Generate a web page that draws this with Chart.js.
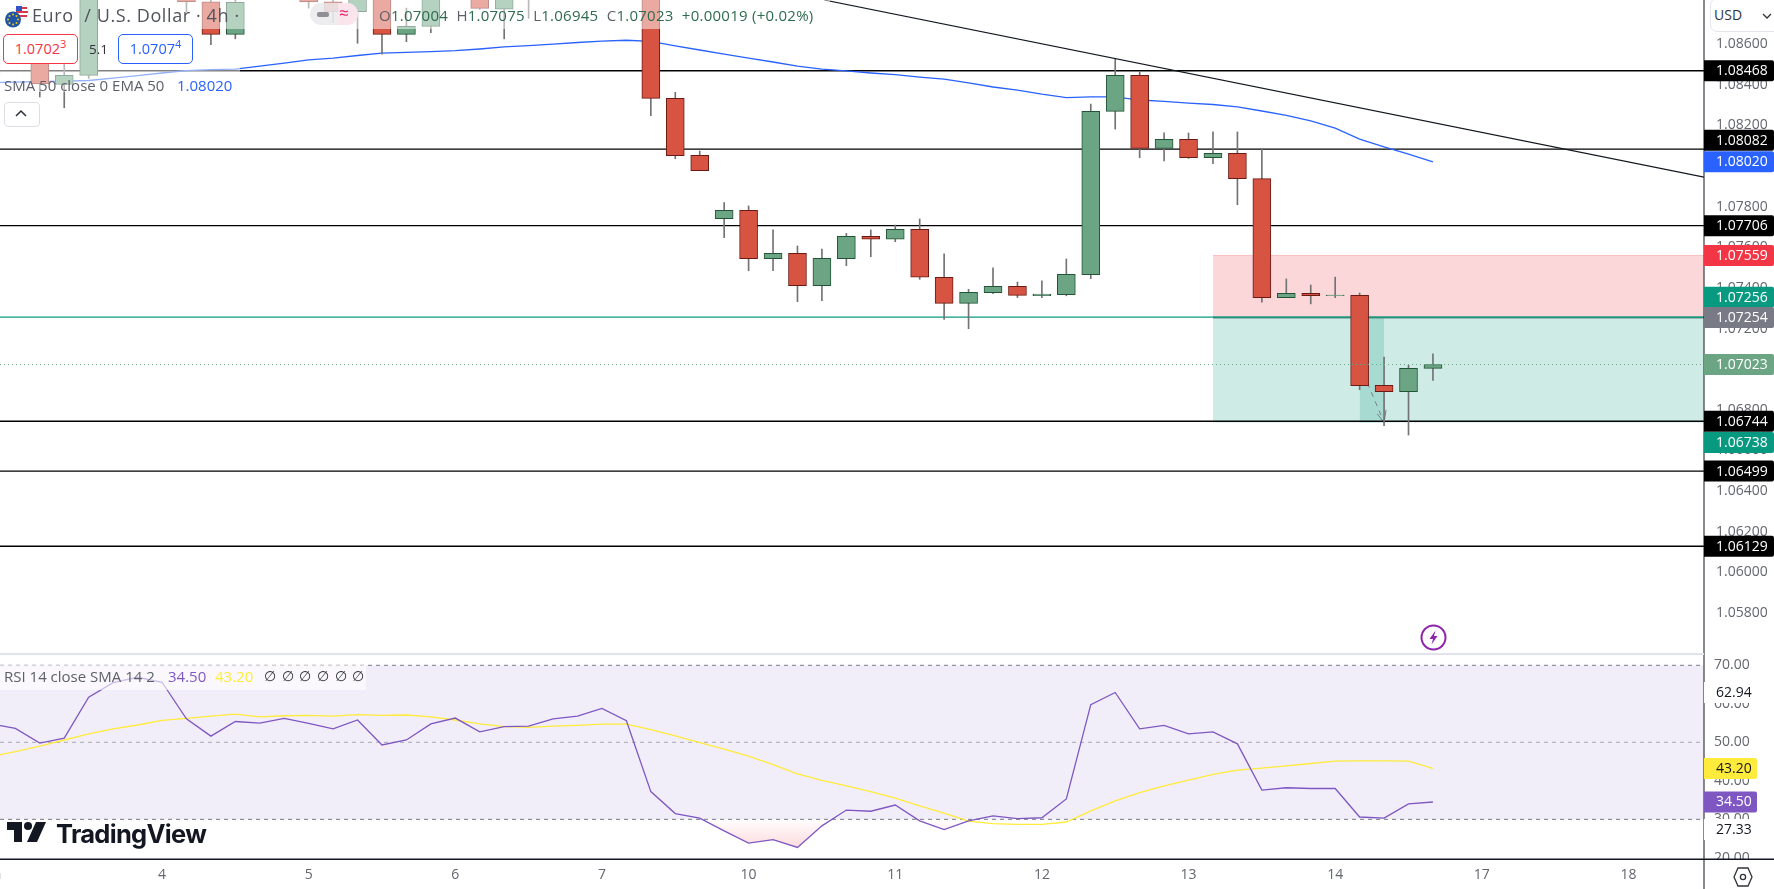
<!DOCTYPE html>
<html>
<head>
<meta charset="utf-8">
<title>Euro / U.S. Dollar 4h</title>
<script src="https://cdn.jsdelivr.net/npm/chart.js@4"></script>
<style>
  html, body { margin: 0; padding: 0; background: #fff; }
  #page { position: relative; width: 1774px; height: 889px; overflow: hidden; background: #fff; font-family: "Open Sans", sans-serif; }
  canvas { position: absolute; left: -40px; }
  #priceChart { top: 0; }
  #rsiChart { top: 654px; }
  .abs { position: absolute; white-space: nowrap; }
  .strip { position: absolute; background: rgba(255,255,255,0.5); }
  .tv-green { color: #2f6b4f; }
  .tv-grey { color: #5d6068; }
</style>
</head>
<body>
<div id="page">
  <canvas id="priceChart" width="1814" height="654"></canvas>
  <canvas id="rsiChart" width="1814" height="235"></canvas>

  <!-- separator between panes -->
  <div class="abs" style="left:0;top:653px;width:1704px;height:2px;background:#e0e3eb"></div>

  <!-- legend backgrounds, they fade the candles under them -->
  <div class="strip" style="left:0;top:0;width:830px;height:29px"></div>
  <div class="strip" style="left:0;top:29px;width:198px;height:35px"></div>
  <div class="strip" style="left:0;top:64px;width:240px;height:28px"></div>
  <div class="strip" style="left:0;top:665px;width:366px;height:25px;background:rgba(255,255,255,0.6)"></div>

  <!-- symbol flags -->
  <svg class="abs" style="left:3px;top:2px" width="26" height="27" viewBox="0 0 26 27">
    <circle cx="19" cy="10" r="7" fill="#fff" stroke="#e8e8ee"/>
    <path d="M14 5h10v2H14zM13 9h12v2H13zM13 13h11v2H13z" fill="#d8394a"/>
    <path d="M13 4h6v5h-6z" fill="#2f57c4"/>
    <circle cx="10" cy="17.5" r="8" fill="#1f57a4"/>
    <g fill="#f5c518"><circle cx="10" cy="12.5" r="1"/><circle cx="10" cy="22.5" r="1"/><circle cx="5" cy="17.5" r="1"/><circle cx="15" cy="17.5" r="1"/><circle cx="6.5" cy="14" r="1"/><circle cx="13.5" cy="14" r="1"/><circle cx="6.5" cy="21" r="1"/><circle cx="13.5" cy="21" r="1"/></g>
  </svg>

  <!-- title row -->
  <div class="abs" style="left:32px;top:3px;font-size:18px;line-height:24px;letter-spacing:0.6px;color:#50535b">Euro&nbsp;&nbsp;/&nbsp;U.S. Dollar · 4h ·</div>
  <div class="abs" style="left:310px;top:3px;width:48px;height:22px;border-radius:11px;background:rgba(232,232,236,0.8)"></div>
  <div class="abs" style="left:338px;top:3px;width:20px;height:22px;border-radius:0 11px 11px 0;background:rgba(252,228,236,0.9)"></div>
  <div class="abs" style="left:317px;top:12px;width:12px;height:5px;border-radius:2px;background:#8f8f94"></div>
  <div class="abs" style="left:339px;top:2px;font-size:17px;line-height:22px;color:#ec1c64">≈</div>
  <div class="abs tv-green" style="left:379px;top:5px;font-size:15px;line-height:20px;letter-spacing:0.25px">
    <span class="tv-grey">O</span>1.07004&nbsp;&nbsp;<span class="tv-grey">H</span>1.07075&nbsp;&nbsp;<span class="tv-grey">L</span>1.06945&nbsp;&nbsp;<span class="tv-grey">C</span>1.07023&nbsp;&nbsp;+0.00019&nbsp;(+0.02%)</div>

  <!-- buy and sell boxes -->
  <div class="abs" style="left:3px;top:34px;width:73px;height:28px;border:1px solid #f23645;border-radius:5px;background:#fff;color:#f23645;font-size:14.5px;line-height:28px;text-align:center">1.0702<sup style="font-size:11px;line-height:0">3</sup></div>
  <div class="abs" style="left:89px;top:40px;font-size:13.5px;line-height:18px;color:#30333b">5.1</div>
  <div class="abs" style="left:118px;top:34px;width:73px;height:28px;border:1px solid #2962ff;border-radius:5px;background:#fff;color:#2962ff;font-size:14.5px;line-height:28px;text-align:center">1.0707<sup style="font-size:11px;line-height:0">4</sup></div>

  <!-- indicator row -->
  <div class="abs tv-grey" style="left:4px;top:75px;font-size:15px;line-height:20px">SMA 50 close 0 EMA 50</div>
  <div class="abs" style="left:177px;top:75px;font-size:15px;line-height:20px;color:#2962ff">1.08020</div>
  <div class="abs" style="left:4px;top:102px;width:34px;height:23px;border:1px solid #dcdee4;border-radius:4px;background:#fff"></div>
  <svg class="abs" style="left:14px;top:108px" width="14" height="10"><path d="M2 8 L7 3 L12 8" fill="none" stroke="#2a2e39" stroke-width="1.5"/></svg>

  <!-- rsi legend -->
  <div class="abs tv-grey" style="left:4px;top:666px;font-size:15px;line-height:20px">RSI 14 close SMA 14 2</div>
  <div class="abs" style="left:168px;top:666px;font-size:15px;line-height:20px;color:#7e57c2">34.50</div>
  <div class="abs" style="left:215px;top:666px;font-size:15px;line-height:20px;color:#ffeb3b">43.20</div>
  <div class="abs" style="left:264px;top:666px;font-size:14px;line-height:20px;color:#30333b;word-spacing:2px">∅ ∅ ∅ ∅ ∅ ∅</div>

  <!-- logo -->
  <svg class="abs" style="left:7px;top:822px" width="39" height="20" viewBox="0 0 39 20">
    <path d="M0 0h15v20H7V8H0z" fill="#131722"/>
    <circle cx="21" cy="4" r="4" fill="#131722"/>
    <path d="M29 0h10l-9 20H20z" fill="#131722"/>
  </svg>
  <div class="abs" style="left:56px;top:818px;font-family:Inter,sans-serif;font-weight:700;font-size:25.5px;line-height:32px;letter-spacing:-0.7px;color:#131722">TradingView</div>

  <!-- lightning badge -->
  <svg class="abs" style="left:1420px;top:624px" width="27" height="27" viewBox="0 0 27 27">
    <circle cx="13.5" cy="13.5" r="12" fill="#fff" stroke="#8e24aa" stroke-width="2"/>
    <path d="M15.5 6.5 L9.5 15 H13 L11.5 20.5 L17.5 12 H14z" fill="#8e24aa"/>
  </svg>

  <!-- currency button and settings icon -->
  <div class="abs" style="left:1710px;top:-2px;width:70px;height:32px;border:1px solid #e4e6ec;border-radius:7px;background:#fff"></div>
  <div class="abs" style="left:1714px;top:5px;font-size:14px;line-height:20px;color:#30333b">USD</div>
  <svg class="abs" style="left:1762px;top:12px" width="10" height="8"><path d="M1 2 L5 6 L9 2" fill="none" stroke="#30333b" stroke-width="1.3"/></svg>
  <svg class="abs" style="left:1733px;top:865px" width="20" height="24" viewBox="0 0 20 24">
    <path d="M5 3 H15 L19 12 L15 21 H5 L1 12z" fill="none" stroke="#30333b" stroke-width="1.3"/>
    <circle cx="10" cy="12" r="2.6" fill="none" stroke="#30333b" stroke-width="1.3"/>
  </svg>
</div>

<script>
// candles, 4h bars, first one sits just off the left edge
var candleOpen = [1.08447,1.08570,1.08560,1.08401,1.08445,1.08930,1.08990,1.09060,1.09020,1.08807,
  1.08647,1.08830,1.08900,1.08980,1.08807,1.08758,1.08900,1.08647,1.08686,1.08860,
  1.08900,1.08771,1.08920,1.08860,1.08900,1.08870,1.08950,1.08930,1.08332,1.08052,
  1.07740,1.07781,1.07543,1.07570,1.07411,1.07543,1.07654,1.07639,1.07688,1.07452,
  1.07324,1.07376,1.07408,1.07361,1.07366,1.07465,1.08268,1.08445,1.08086,1.08131,
  1.08040,1.08062,1.07937,1.07352,1.07373,1.07361,1.07363,1.06921,1.06889,1.07004];
var candleHigh = [1.08590,1.08590,1.08590,1.08500,1.08960,1.09060,1.09100,1.09110,1.09050,1.08880,
  1.08860,1.08950,1.09010,1.09000,1.08850,1.08930,1.08940,1.08776,1.08890,1.08900,
  1.08930,1.08950,1.08960,1.08930,1.08950,1.08990,1.08980,1.08960,1.08362,1.08073,
  1.07819,1.07803,1.07685,1.07606,1.07591,1.07668,1.07685,1.07709,1.07739,1.07567,
  1.07393,1.07498,1.07429,1.07434,1.07542,1.08304,1.08526,1.08463,1.08162,1.08162,
  1.08167,1.08167,1.08084,1.07444,1.07414,1.07453,1.07375,1.07060,1.07019,1.07075];
var candleLow = [1.08432,1.08540,1.08339,1.08286,1.08430,1.08900,1.08950,1.08960,1.08757,1.08596,
  1.08625,1.08820,1.08870,1.08776,1.08704,1.08603,1.08549,1.08611,1.08655,1.08820,
  1.08770,1.08625,1.08726,1.08825,1.08830,1.08840,1.08880,1.08247,1.08035,1.07976,
  1.07647,1.07484,1.07484,1.07332,1.07337,1.07509,1.07553,1.07627,1.07442,1.07245,
  1.07199,1.07371,1.07352,1.07352,1.07361,1.07445,1.08181,1.08040,1.08025,1.08037,
  1.08011,1.07809,1.07330,1.07352,1.07321,1.07352,1.06899,1.06722,1.06676,1.06945];
var candleClose = [1.08570,1.08560,1.08403,1.08445,1.08930,1.08990,1.09060,1.09020,1.08807,1.08647,
  1.08804,1.08900,1.08980,1.08807,1.08758,1.08900,1.08647,1.08686,1.08860,1.08830,
  1.08775,1.08920,1.08860,1.08900,1.08870,1.08950,1.08930,1.08332,1.08050,1.07976,
  1.07781,1.07543,1.07570,1.07411,1.07545,1.07654,1.07639,1.07688,1.07452,1.07324,
  1.07378,1.07408,1.07363,1.07370,1.07467,1.08268,1.08445,1.08086,1.08131,1.08040,
  1.08062,1.07937,1.07352,1.07373,1.07361,1.07365,1.06919,1.06889,1.07004,1.07023];
var emaValues = [1.08410,1.08412,1.08415,1.08417,1.08420,1.08432,1.08444,1.08457,1.08469,1.08474,
  1.08476,1.08491,1.08506,1.08521,1.08530,1.08543,1.08555,1.08558,1.08562,1.08567,
  1.08575,1.08585,1.08592,1.08599,1.08607,1.08614,1.08618,1.08612,1.08590,1.08570,
  1.08550,1.08530,1.08511,1.08491,1.08476,1.08467,1.08457,1.08449,1.08437,1.08427,
  1.08408,1.08388,1.08373,1.08353,1.08336,1.08339,1.08339,1.08324,1.08317,1.08309,
  1.08302,1.08290,1.08270,1.08248,1.08221,1.08186,1.08132,1.08093,1.08058,1.08020];
var rsiValues = [54.8,53.6,49.8,51.1,61.7,65.5,66.9,65.6,56.1,51.6,
  55.4,55.0,56.2,54.9,53.5,55.8,49.3,50.6,54.8,56.3,
  52.7,54.1,54.2,56.1,56.8,58.8,55.6,37.2,31.5,30.3,
  27.0,23.8,24.7,22.7,28.3,32.4,32.1,33.7,29.6,27.33,
  29.6,30.9,30.2,30.4,35.3,59.8,62.94,53.5,54.4,52.2,
  52.7,49.6,37.6,38.2,38.0,38.0,30.6,30.3,34.0,34.5];
var rsiSmaValues = [46.3,47.6,49.0,50.6,52.2,53.5,54.5,55.7,56.2,56.8,
  57.3,56.6,56.9,57.0,56.8,57.2,57.0,57.1,56.6,55.8,
  54.8,54.1,53.9,54.2,54.4,54.7,54.7,53.3,51.7,49.9,
  48.2,46.4,44.2,41.8,40.1,38.7,37.2,35.5,33.5,31.6,
  29.5,28.9,28.7,28.7,29.3,32.2,34.8,36.9,38.7,40.2,
  41.7,42.8,43.3,43.9,44.5,45.1,45.2,45.2,45.1,43.2];

// time axis
var dayLabels = ["Jun","4","5","6","7","10","11","12","13","14","17","18"];
var dayBars = [0,7,13,19,25,31,37,43,49,55,61,67];

// drawings on the price pane
var levelPrices = [1.08468,1.08082,1.07706,1.06744,1.06499,1.06129];
var greenLevel = 1.07256;
var lastPrice = 1.07023;
var entryPrice = 1.07254;
var stopPrice = 1.07559;
var targetPrice = 1.06738;
var positionStartBar = 50;
var filledBars = [56,57];
var trendBars = [34.09,70.09];
var trendPrices = [1.08816,1.07945];
var arrowBars = [56,57];
var arrowPrices = [1.07023,1.06738];
var arrowHeadBars = [56.72,57,57.08];
var arrowHeadPrices = [1.06780,1.06738,1.06800];

// labels on the right axis
var priceTagValues = [1.08468,1.08082,1.08020,1.07706,1.07559,1.07256,1.07254,1.07023,1.06744,1.06738,1.06499,1.06129];
var rsiLevels = [70,50,30];
var rsiTagValues = [62.94,43.20,34.50,27.33];

// scale limits, the canvas starts 40px left of the page so "Jun" gets cut by the edge
var xMin = -1.265, xMax = 70.09;
var upFill = "#6ba583", upBorder = "#225437", downFill = "#d75442", downBorder = "#6b1a13", wickColor = "#737375";
var tickGrey = "#63666e";
var tickFont = { family: "'Open Sans', sans-serif", size: 14 };
var axisX = 1744; // 1704 on the page
var tagFills = ["#000","#000","#2962ff","#000","#f23645","#089981","#787b86","#6ba583","#000","#089981","#000","#000"];
var tagShift = [0,-9,0,0,0,-20,0,0,0,20,0,0]; // tags pushed apart like on the original
var rsiTagFills = ["#fff","#ffeb3b","#7e57c2","#fff"];
var rsiTagText = ["#131722","#131722","#fff","#131722"];

function flatLine(from, to, value, color, width, dash, order) {
  return {
    type: "line",
    data: [{x: from, y: value}, {x: to, y: value}],
    borderColor: color,
    borderWidth: width,
    borderDash: dash || [],
    pointRadius: 0,
    fill: false,
    order: order
  };
}

function bandFill(from, to, top, bottom, color, order) {
  return {
    type: "line",
    data: [{x: from, y: top}, {x: to, y: top}],
    borderWidth: 0,
    pointRadius: 0,
    backgroundColor: color,
    fill: {target: {value: bottom}},
    order: order
  };
}

function pairs(xs, ys) {
  return xs.map(function(x, i) { return {x: x, y: ys[i]}; });
}

function drawTag(ctx, y, w, fill, textColor, text) {
  ctx.fillStyle = fill;
  ctx.beginPath();
  ctx.roundRect(axisX, y - 10.5, w, 21, [0, 2, 2, 0]);
  ctx.fill();
  ctx.fillStyle = textColor;
  ctx.font = "14px 'Open Sans', sans-serif";
  ctx.textAlign = "left";
  ctx.textBaseline = "middle";
  ctx.fillText(text, axisX + 12, y + 0.5);
}

// y axis keeps the whole canvas height, no room for half a label at the ends
function fitRightAxis(scale) {
  scale.width = 70;
  scale.paddingTop = 0;
  scale.paddingBottom = 0;
}

var priceTagsPlugin = {
  id: "priceTags",
  afterDraw: function(chart) {
    var ctx = chart.ctx, yScale = chart.scales.y;
    ctx.save();
    ctx.fillStyle = "#131722";
    ctx.fillRect(axisX - 0.5, 0, 1, chart.height);
    priceTagValues.forEach(function(v, i) {
      var y = yScale.getPixelForValue(v) + tagShift[i];
      drawTag(ctx, y, 70, tagFills[i], "#fff", v.toFixed(5));
    });
    ctx.restore();
  }
};

var rsiTagsPlugin = {
  id: "rsiTags",
  afterDraw: function(chart) {
    var ctx = chart.ctx, yScale = chart.scales.y, area = chart.chartArea;
    ctx.save();
    // the 20.00 label gets cut by the time axis row
    ctx.fillStyle = "#fff";
    ctx.fillRect(axisX, area.bottom, 70, chart.height - area.bottom);
    ctx.fillStyle = "#131722";
    ctx.fillRect(axisX - 0.5, 0, 1, chart.height);
    ctx.fillRect(0, area.bottom - 0.5, chart.width, 1.5);
    rsiTagValues.forEach(function(v, i) {
      drawTag(ctx, yScale.getPixelForValue(v), 53, rsiTagFills[i], rsiTagText[i], v.toFixed(2));
    });
    ctx.restore();
  }
};

var priceDatasets = [];
priceDatasets.push({
  type: "line",
  data: pairs(trendBars, trendPrices),
  borderColor: "#131722",
  borderWidth: 1.2,
  pointRadius: 0,
  fill: false,
  order: 1
});
priceDatasets.push(flatLine(xMin, xMax, lastPrice, "#6ba583", 1, [1, 3], 2));
// candle bodies
priceDatasets.push({
  type: "bar",
  data: candleOpen.map(function(o, i) { return {x: i, y: [o, candleClose[i]]}; }),
  grouped: false,
  barThickness: 18,
  borderWidth: 1,
  borderSkipped: false,
  backgroundColor: function(c) { return candleClose[c.dataIndex] >= candleOpen[c.dataIndex] ? upFill : downFill; },
  borderColor: function(c) { return candleClose[c.dataIndex] >= candleOpen[c.dataIndex] ? upBorder : downBorder; },
  order: 3
});
// wicks
priceDatasets.push({
  type: "bar",
  data: candleLow.map(function(l, i) { return {x: i, y: [l, candleHigh[i]]}; }),
  grouped: false,
  barThickness: 1,
  backgroundColor: wickColor,
  order: 4
});
priceDatasets.push({
  type: "line",
  data: emaValues.map(function(v, i) { return {x: i, y: v}; }),
  borderColor: "#2962ff",
  borderWidth: 1.3,
  pointRadius: 0,
  fill: false,
  order: 5
});
levelPrices.forEach(function(p) {
  priceDatasets.push(flatLine(xMin, xMax, p, "#000", 1.3, null, 6));
});
priceDatasets.push(flatLine(xMin, xMax, greenLevel, "#089981", 1.2, null, 6));
// dashed projection arrow
priceDatasets.push({
  type: "line",
  data: pairs(arrowBars, arrowPrices),
  borderColor: "#787b86",
  borderWidth: 1,
  borderDash: [5, 5],
  pointRadius: 0,
  fill: false,
  order: 7
});
priceDatasets.push({
  type: "line",
  data: pairs(arrowHeadBars, arrowHeadPrices),
  borderColor: "#787b86",
  borderWidth: 1,
  pointRadius: 0,
  fill: false,
  order: 7
});
// short position box
priceDatasets.push(flatLine(positionStartBar, xMax, entryPrice, "#5c8a80", 2, null, 8));
priceDatasets.push(bandFill(filledBars[0], filledBars[1], entryPrice, targetPrice, "rgba(8,153,129,0.2)", 9));
priceDatasets.push(bandFill(positionStartBar, xMax, stopPrice, entryPrice, "rgba(242,54,69,0.2)", 10));
priceDatasets.push(bandFill(positionStartBar, xMax, entryPrice, targetPrice, "rgba(8,153,129,0.2)", 10));
priceDatasets.push(flatLine(positionStartBar, xMax, stopPrice, "rgba(242,54,69,0.25)", 1, null, 10));

new Chart(document.getElementById("priceChart"), {
  type: "bar",
  data: { datasets: priceDatasets },
  plugins: [priceTagsPlugin],
  options: {
    responsive: false,
    animation: false,
    events: [],
    layout: { padding: 0 },
    plugins: { legend: { display: false }, tooltip: { enabled: false } },
    scales: {
      x: { type: "linear", min: xMin, max: xMax, offset: false, display: false },
      y: {
        position: "right",
        min: 1.05599,
        max: 1.08816,
        afterFit: fitRightAxis,
        grid: { display: false, drawTicks: false },
        border: { display: false },
        ticks: {
          stepSize: 0.002,
          includeBounds: false,
          padding: 12,
          color: tickGrey,
          font: tickFont,
          // 1.05600 sits on the pane edge, the original leaves it out
          callback: function(v) { return v < 1.0565 ? "" : v.toFixed(5); }
        }
      }
    }
  }
});

// pink wash under the rsi line, only where it drops below 30
var rsiCanvas = document.getElementById("rsiChart");
var oversoldWash = rsiCanvas.getContext("2d").createLinearGradient(0, 165, 0, 196);
oversoldWash.addColorStop(0, "rgba(242,54,69,0)");
oversoldWash.addColorStop(1, "rgba(242,54,69,0.2)");

var rsiDatasets = [];
rsiDatasets.push({
  type: "line",
  data: rsiValues.map(function(v, i) { return {x: i, y: v}; }),
  borderColor: "#7e57c2",
  borderWidth: 1.3,
  pointRadius: 0,
  fill: { target: { value: 30 }, above: "rgba(0,0,0,0)", below: oversoldWash },
  order: 1
});
rsiDatasets.push({
  type: "line",
  data: rsiSmaValues.map(function(v, i) { return {x: i, y: v}; }),
  borderColor: "#ffeb3b",
  borderWidth: 1.3,
  pointRadius: 0,
  fill: false,
  order: 2
});
rsiLevels.forEach(function(l) {
  rsiDatasets.push(flatLine(xMin, xMax, l, l === 50 ? "rgba(120,123,134,0.6)" : "#787b86", 1, [4, 4], 3));
});
rsiDatasets.push(bandFill(xMin, xMax, rsiLevels[0], rsiLevels[2], "rgba(126,87,194,0.1)", 4));

new Chart(rsiCanvas, {
  type: "line",
  data: { datasets: rsiDatasets },
  plugins: [rsiTagsPlugin],
  options: {
    responsive: false,
    animation: false,
    events: [],
    layout: { padding: 0 },
    plugins: { legend: { display: false }, tooltip: { enabled: false } },
    scales: {
      x: {
        type: "linear",
        min: xMin,
        max: xMax,
        afterFit: function(scale) { scale.height = 30; scale.paddingLeft = 0; scale.paddingRight = 0; },
        afterBuildTicks: function(scale) {
          scale.ticks = dayBars.map(function(b) { return {value: b}; });
        },
        grid: { display: false, drawTicks: false },
        border: { display: false },
        ticks: {
          autoSkip: false,
          maxRotation: 0,
          includeBounds: false,
          padding: 8,
          color: tickGrey,
          font: tickFont,
          callback: function(v) { return dayLabels[dayBars.indexOf(v)]; }
        }
      },
      y: {
        position: "right",
        min: 19.69,
        max: 72.94,
        afterFit: fitRightAxis,
        grid: { display: false, drawTicks: false },
        border: { display: false },
        ticks: {
          stepSize: 10,
          includeBounds: false,
          padding: 10,
          color: tickGrey,
          font: tickFont,
          callback: function(v) { return v.toFixed(2); }
        }
      }
    }
  }
});
</script>
</body>
</html>
